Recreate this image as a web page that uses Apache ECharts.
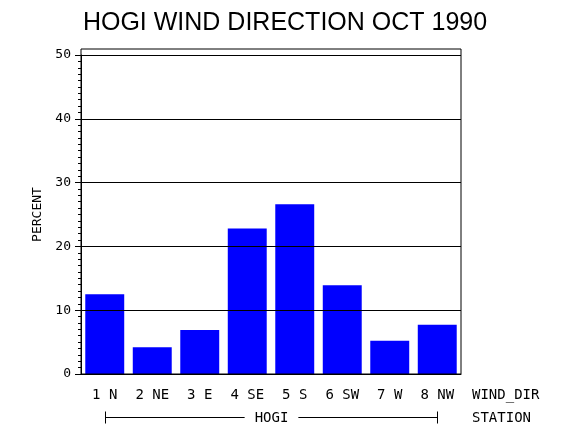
<!DOCTYPE html>
<html><head><meta charset="utf-8">
<script src="https://cdn.jsdelivr.net/npm/echarts@6/dist/echarts.min.js"></script>
<style>html,body{margin:0;padding:0;background:#fff}#c{width:570px;height:430px}</style>
</head><body><div id="c"></div>
<script>
const categories = ['1 N', '2 NE', '3 E', '4 SE', '5 S', '6 SW', '7 W', '8 NW'];
const percentValues = [12.5, 4.2, 6.9, 22.8, 26.6, 13.9, 5.2, 7.7];
const yTicks = [0, 10, 20, 30, 40, 50];
const titleText = 'HOGI WIND DIRECTION OCT 1990';
const xAxisName = 'WIND_DIR';
const yAxisName = 'PERCENT';
const groupName = 'HOGI';
const groupAxisName = 'STATION';

const MONO = 'DejaVu Sans Mono';
const chart = echarts.init(document.getElementById('c'), null, {renderer: 'canvas'});
const option = {
  animation: false,
  backgroundColor: '#fff',
  title: {
    text: titleText, left: 'center', top: 6,
    textStyle: {fontFamily: 'Liberation Sans', fontSize: 25, fontWeight: 'normal', color: '#000'}
  },
  grid: [
    {left: 81, right: 109, top: 55, bottom: 56, show: false},
    {left: 81, right: 109, top: 49, bottom: 56, show: true, borderColor: '#000', borderWidth: 1, z: 5, backgroundColor: 'transparent'}
  ],
  xAxis: [
    {
      type: 'category', data: categories, gridIndex: 0, z: 4,
      axisLine: {show: true, lineStyle: {color: '#000', width: 1}},
      axisTick: {show: false},
      axisLabel: {color: '#000', fontFamily: MONO, fontSize: 14, margin: 14, interval: 0},
      name: xAxisName, nameLocation: 'end', nameGap: 11,
      nameTextStyle: {color: '#000', fontFamily: MONO, fontSize: 14, align: 'left', verticalAlign: 'top', padding: [14, 0, 0, 0]}
    },
    {type: 'value', gridIndex: 1, show: false}
  ],
  yAxis: [
    {
      type: 'value', gridIndex: 0, z: 4,
      min: yTicks[0], max: yTicks[yTicks.length - 1], interval: yTicks[1] - yTicks[0],
      axisLine: {show: true, lineStyle: {color: '#000', width: 1}},
      axisTick: {show: true, length: 6, lineStyle: {color: '#000', width: 1}},
      minorTick: {show: true, splitNumber: 10, length: 3, lineStyle: {color: '#000', width: 1}},
      splitLine: {show: true, lineStyle: {color: '#000', width: 1}},
      axisLabel: {color: '#000', fontFamily: MONO, fontSize: 13, margin: 10, padding: [4, 0, 0, 0]},
      name: yAxisName, nameLocation: 'middle', nameRotate: 90, nameGap: 33,
      nameTextStyle: {color: '#000', fontFamily: MONO, fontSize: 13}
    },
    {type: 'value', gridIndex: 1, show: false}
  ],
  series: [{
    type: 'bar', xAxisIndex: 0, yAxisIndex: 0,
    data: percentValues, barCategoryGap: '18%',
    itemStyle: {color: '#0000ff'}, z: 2
  }]
};
chart.setOption(option);

const pA = chart.convertToPixel({xAxisIndex: 0, yAxisIndex: 0}, [0, 0]);
const pB = chart.convertToPixel({xAxisIndex: 0, yAxisIndex: 0}, [categories.length - 1, 0]);
const by = Math.round(pA[1] + 43) + 0.5;
const x0 = Math.round(pA[0]) + 0.5, x1 = Math.round(pB[0]) + 0.5;
const lineStyle = {stroke: '#000', lineWidth: 1};
chart.setOption({
  graphic: [
    {type: 'line', shape: {x1: x0, y1: by, x2: x1, y2: by}, style: lineStyle, silent: true},
    {type: 'line', shape: {x1: x0, y1: by - 6, x2: x0, y2: by + 6}, style: lineStyle, silent: true},
    {type: 'line', shape: {x1: x1, y1: by - 6, x2: x1, y2: by + 6}, style: lineStyle, silent: true},
    {type: 'text', x: (x0 + x1) / 2, y: by + 1, z: 10, silent: true,
     style: {text: groupName, fill: '#000', font: '14px "DejaVu Sans Mono"', align: 'center', verticalAlign: 'middle',
             backgroundColor: '#fff', padding: [0, 10]}},
    {type: 'text', x: 472, y: by + 1, silent: true,
     style: {text: groupAxisName, fill: '#000', font: '14px "DejaVu Sans Mono"', align: 'left', verticalAlign: 'middle'}}
  ]
});
</script>
</body></html>
